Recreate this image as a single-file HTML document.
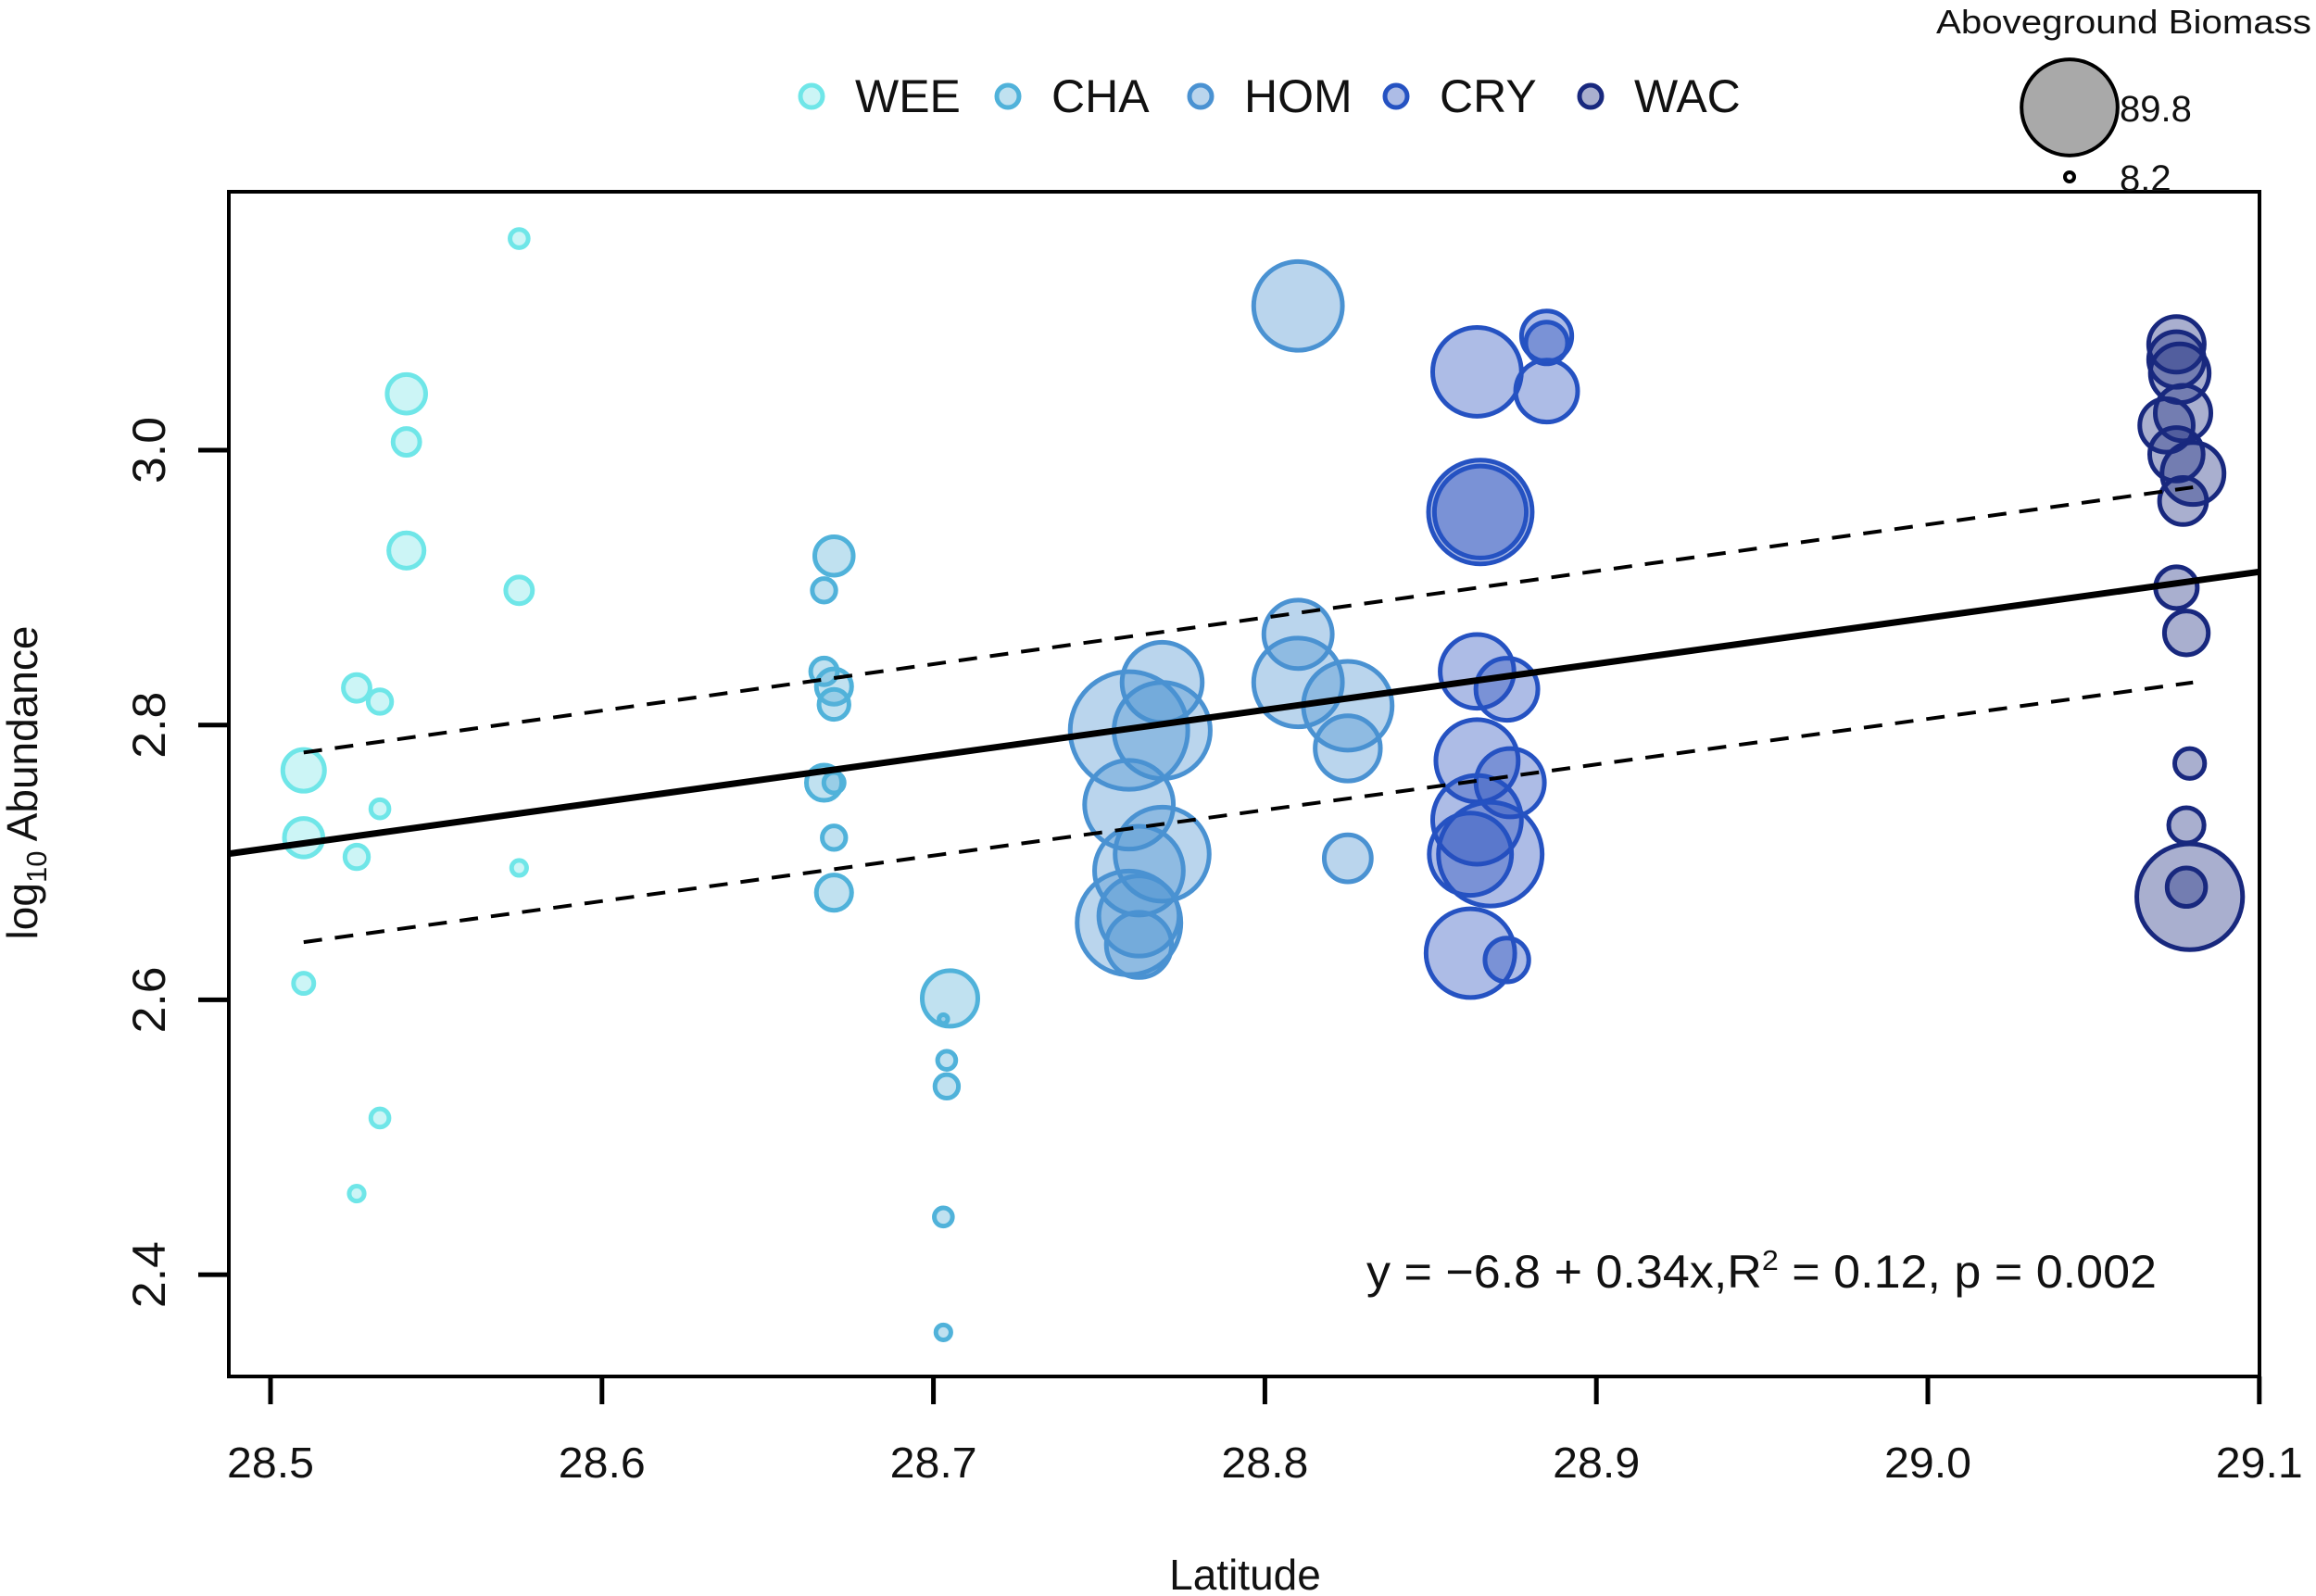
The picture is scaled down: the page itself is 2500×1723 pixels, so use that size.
<!DOCTYPE html>
<html><head><meta charset="utf-8"><style>
html,body{margin:0;padding:0;background:#fff}
svg{display:block}
text{font-family:"Liberation Sans",Arial,sans-serif;fill:#111}
</style></head><body>
<svg id="chart" width="2500" height="1723" viewBox="0 0 2500 1723" xmlns="http://www.w3.org/2000/svg">
<g id="plot"></g>
</svg>
<script>
const xTicks=[28.5,28.6,28.7,28.8,28.9,29.0,29.1];
const xTickLabels=["28.5","28.6","28.7","28.8","28.9","29.0","29.1"];
const yTicks=[2.4,2.6,2.8,3.0];
const yTickLabels=["2.4","2.6","2.8","3.0"];
const groups=["WEE","CHA","HOM","CRY","WAC"];
const weeLat=[28.575,28.541,28.541,28.541,28.575,28.526,28.533,28.510,28.510,28.533,28.526,28.575,28.510,28.533,28.526];
const weeAb=[3.154,3.041,3.006,2.927,2.898,2.827,2.817,2.767,2.718,2.739,2.704,2.696,2.612,2.514,2.459];
const weeBm=[17,36,25,33,25,25,22,39,36,17,22,14,19,17,14];
const chaLat=[28.670,28.667,28.667,28.670,28.670,28.667,28.670,28.670,28.670,28.705,28.703,28.704,28.704,28.703,28.703];
const chaAb=[2.923,2.898,2.839,2.828,2.815,2.758,2.758,2.718,2.678,2.601,2.586,2.556,2.537,2.442,2.358];
const chaBm=[36,22,25,33,28,33,19,22,33,52,8.2,17,22,17,14];
const homLat=[28.810,28.810,28.810,28.825,28.825,28.825,28.769,28.769,28.759,28.759,28.769,28.762,28.759,28.762,28.762];
const homAb=[3.105,2.866,2.831,2.814,2.783,2.703,2.831,2.796,2.796,2.742,2.706,2.694,2.656,2.661,2.640];
const homBm=[83,64,83,83,61,44,75,90,110,83,88,83,97,75,61];
const cryLat=[28.864,28.885,28.885,28.885,28.865,28.865,28.864,28.873,28.864,28.874,28.864,28.868,28.862,28.862,28.873];
const cryAb=[3.057,3.083,3.078,3.043,2.955,2.955,2.839,2.826,2.774,2.758,2.731,2.706,2.706,2.634,2.629];
const cryBm=[83,47,39,58,97,86,69,58,77,64,83,97,77,83,41];
const wacLat=[29.075,29.075,29.076,29.077,29.072,29.075,29.080,29.077,29.075,29.078,29.079,29.078,29.079,29.078];
const wacAb=[3.077,3.066,3.056,3.027,3.018,2.997,2.983,2.963,2.900,2.867,2.772,2.727,2.675,2.682];
const wacBm=[52,52,55,52,50,50,58,44,39,41,28,33,99,36];
const fitIntercept=-6.837, fitSlope=0.335;
const ciLat=[28.51,29.08];
const ciUpper=[2.780,2.973];
const ciLower=[2.642,2.831];
const sizeLegendValues=[89.8,8.2];

const NS="http://www.w3.org/2000/svg";
const svg=document.getElementById('plot');
const L=247,R=2439,T=207,B=1486;
const xs=v=>292+(v-28.5)*3578;
const ys=v=>486-(v-3.0)*1483.5;
const rs=v=>v*0.577;
function mk(tag,attrs,parent){const e=document.createElementNS(NS,tag);for(const k in attrs)e.setAttribute(k,attrs[k]);(parent||svg).appendChild(e);return e;}

const series=[
 {name:"wee",lat:weeLat,ab:weeAb,bm:weeBm,stroke:"#6fe6e8",fill:"rgba(120,230,232,0.38)"},
 {name:"cha",lat:chaLat,ab:chaAb,bm:chaBm,stroke:"#50b2da",fill:"rgba(90,175,215,0.38)"},
 {name:"hom",lat:homLat,ab:homAb,bm:homBm,stroke:"#4a92d2",fill:"rgba(74,144,208,0.38)"},
 {name:"cry",lat:cryLat,ab:cryAb,bm:cryBm,stroke:"#2552c2",fill:"rgba(40,80,190,0.38)"},
 {name:"wac",lat:wacLat,ab:wacAb,bm:wacBm,stroke:"#18287e",fill:"rgba(30,45,130,0.38)"}
];

series.forEach(s=>{
 const g=mk('g',{});
 
 
 s.lat.forEach((v,i)=>{
  const c=mk('circle',{cx:xs(v),cy:ys(s.ab[i]),r:rs(s.bm[i]),fill:s.fill,stroke:s.stroke,'stroke-width':5},g);
  
  
 });
});

const fl=mk('line',{x1:L,y1:ys(fitIntercept+fitSlope*28.4875),x2:R,y2:ys(fitIntercept+fitSlope*29.1),stroke:'#000','stroke-width':7});


const cu=mk('line',{x1:xs(ciLat[0]),y1:ys(ciUpper[0]),x2:xs(ciLat[1]),y2:ys(ciUpper[1]),stroke:'#000','stroke-width':4,'stroke-dasharray':'20 14'});


const cl=mk('line',{x1:xs(ciLat[0]),y1:ys(ciLower[0]),x2:xs(ciLat[1]),y2:ys(ciLower[1]),stroke:'#000','stroke-width':4,'stroke-dasharray':'20 14'});



const box=mk('rect',{x:L,y:T,width:R-L,height:B-T,fill:'none',stroke:'#000','stroke-width':4});



xTicks.forEach((v,i)=>{
 const t=mk('line',{x1:xs(v),y1:B,x2:xs(v),y2:B+30,stroke:'#000','stroke-width':5});
 
 
 const tx=mk('text',{x:xs(v),y:1595,'text-anchor':'middle','font-size':46,textLength:94,lengthAdjust:'spacingAndGlyphs'});
 tx.textContent=xTickLabels[i];
 
 
});
yTicks.forEach((v,i)=>{
 const t=mk('line',{x1:L,y1:ys(v),x2:L-33,y2:ys(v),stroke:'#000','stroke-width':5});
 
 
 const tx=mk('text',{x:0,y:0,'text-anchor':'middle','font-size':50,textLength:72,lengthAdjust:'spacingAndGlyphs',transform:`translate(178,${ys(v)}) rotate(-90)`});
 tx.textContent=yTickLabels[i];
 
 
});

const xt=mk('text',{x:1344,y:1716,'text-anchor':'middle','font-size':46});
xt.textContent='Latitude';


const yt=mk('text',{x:0,y:0,'text-anchor':'middle','font-size':46,transform:'translate(40,845) rotate(-90)'});
yt.innerHTML='log<tspan font-size="31" dy="10">10</tspan><tspan dy="-10"> Abundance</tspan>';



const eq=mk('text',{x:1475,y:1390,'font-size':50,textLength:853,lengthAdjust:'spacingAndGlyphs'});
eq.innerHTML='y = −6.8 + 0.34x,R<tspan font-size="31" dy="-19">2</tspan><tspan dy="19"> =  0.12, p = 0.002</tspan>';



const legX=[876,1088,1296,1507,1717];
groups.forEach((gname,i)=>{
 const s=series[i];
 const c=mk('circle',{cx:legX[i],cy:104,r:12,fill:s.fill,stroke:s.stroke,'stroke-width':5});
 
 
 const t=mk('text',{x:legX[i]+47,y:121,'font-size':50});
 t.textContent=gname;
 
 
});

const st=mk('text',{x:2090,y:36,'font-size':36,textLength:405,lengthAdjust:'spacingAndGlyphs'});
st.textContent='Aboveground Biomass';


const sy=[116,191];
sizeLegendValues.forEach((v,i)=>{
 const c=mk('circle',{cx:2234,cy:sy[i],r:Math.max(rs(v),5),fill:i==0?'#a9a9a9':'#fff',stroke:'#000','stroke-width':4});
 
 
 const t=mk('text',{x:2288,y:sy[i]+15,'font-size':40});
 t.textContent=String(v);
 
 
});
</script>
</body></html>
